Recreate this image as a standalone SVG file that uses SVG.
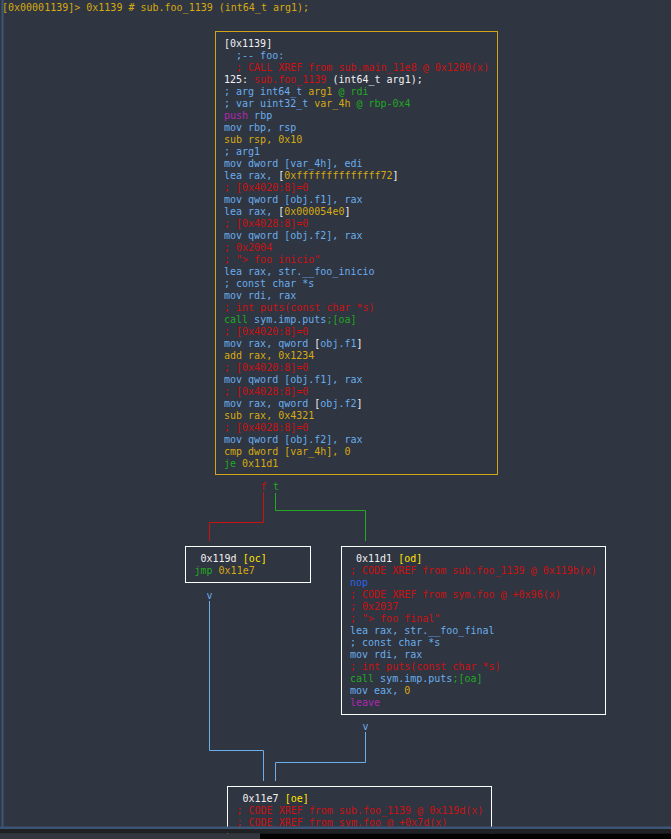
<svg xmlns="http://www.w3.org/2000/svg" width="671" height="839" viewBox="0 0 671 839">
<style>
text{font-family:"DejaVu Sans Mono","Liberation Mono",monospace;font-size:10px;white-space:pre}
.w{fill:#f2f2f2}.b{fill:#6aaeec}.r{fill:#cc1111}.y{fill:#d6aa12}.g{fill:#22a822}.p{fill:#b028b0}.n{fill:#2a64e6}.Y{fill:#ffe400}
.box{fill:none;stroke:#ffffff;stroke-width:1}
.main{fill:none;stroke:#d4a418;stroke-width:1}
.edge{fill:none;stroke-width:1}
</style>
<rect x="0" y="0" width="671" height="839" fill="#2f3541"/>
<rect x="1.5" y="0" width="2" height="829" fill="#3f5676"/>
<text x="2" y="11" class="y" xml:space="preserve">[0x00001139]&gt; 0x1139 # sub.foo_1139 (int64_t arg1);</text>

<g id="connectors">
<polyline class="edge" stroke="#cc1111" points="263.5,492 263.5,522.5 209.5,522.5 209.5,541"/>
<polyline class="edge" stroke="#22a822" points="275.5,493 275.5,510.5 365.5,510.5 365.5,541"/>
<polyline class="edge" stroke="#6aaeec" points="209.5,601 209.5,750.5 263.5,750.5 263.5,781"/>
<polyline class="edge" stroke="#6aaeec" points="365.5,732 365.5,762.5 275.5,762.5 275.5,781"/>
<text x="263.5" y="490" class="r" text-anchor="middle">f</text>
<text x="276" y="490" class="g" text-anchor="middle">t</text>
<text x="209.5" y="598.5" class="b" text-anchor="middle">v</text>
<text x="365.5" y="730" class="b" text-anchor="middle">v</text>
</g>

<g id="n0x1139">
<rect class="main" x="215.5" y="31.5" width="282" height="443"/>
<text x="224" y="46.5" xml:space="preserve"><tspan class="w">[0x1139]</tspan><tspan x="224" dy="12" class="b">  ;-- foo:</tspan><tspan x="224" dy="12" class="r">  ; CALL XREF from sub.main_11e8 @ 0x1200(x)</tspan><tspan x="224" dy="12" class="w">125: </tspan><tspan class="r">sub.foo_1139</tspan><tspan class="w"> (int64_t arg1);</tspan><tspan x="224" dy="12" class="b">; arg int64_t </tspan><tspan class="y">arg1</tspan><tspan class="g"> @ rdi</tspan><tspan x="224" dy="12" class="b">; var uint32_t </tspan><tspan class="y">var_4h</tspan><tspan class="g"> @ rbp-0x4</tspan><tspan x="224" dy="12" class="p">push</tspan><tspan class="b"> rbp</tspan><tspan x="224" dy="12" class="b">mov rbp, rsp</tspan><tspan x="224" dy="12" class="y">sub rsp, 0x10</tspan><tspan x="224" dy="12" class="b">; arg1</tspan><tspan x="224" dy="12" class="b">mov dword [var_4h], edi</tspan><tspan x="224" dy="12" class="b">lea rax, </tspan><tspan class="w">[</tspan><tspan class="y">0xffffffffffffff72</tspan><tspan class="w">]</tspan><tspan x="224" dy="12" class="r">; [0x4020:8]=0</tspan><tspan x="224" dy="12" class="b">mov qword [obj.f1], rax</tspan><tspan x="224" dy="12" class="b">lea rax, </tspan><tspan class="w">[</tspan><tspan class="y">0x000054e0</tspan><tspan class="w">]</tspan><tspan x="224" dy="12" class="r">; [0x4028:8]=0</tspan><tspan x="224" dy="12" class="b">mov qword [obj.f2], rax</tspan><tspan x="224" dy="12" class="r">; 0x2004</tspan><tspan x="224" dy="12" class="r">; "&gt; foo inicio"</tspan><tspan x="224" dy="12" class="b">lea rax, str.__foo_inicio</tspan><tspan x="224" dy="12" class="b">; const char *s</tspan><tspan x="224" dy="12" class="b">mov rdi, rax</tspan><tspan x="224" dy="12" class="r">; int puts(const char *s)</tspan><tspan x="224" dy="12" class="g">call</tspan><tspan class="b"> sym.imp.puts</tspan><tspan class="g">;[oa]</tspan><tspan x="224" dy="12" class="r">; [0x4020:8]=0</tspan><tspan x="224" dy="12" class="b">mov rax, qword </tspan><tspan class="w">[</tspan><tspan class="b">obj.f1</tspan><tspan class="w">]</tspan><tspan x="224" dy="12" class="y">add rax, 0x1234</tspan><tspan x="224" dy="12" class="r">; [0x4020:8]=0</tspan><tspan x="224" dy="12" class="b">mov qword [obj.f1], rax</tspan><tspan x="224" dy="12" class="r">; [0x4028:8]=0</tspan><tspan x="224" dy="12" class="b">mov rax, qword </tspan><tspan class="w">[</tspan><tspan class="b">obj.f2</tspan><tspan class="w">]</tspan><tspan x="224" dy="12" class="y">sub rax, 0x4321</tspan><tspan x="224" dy="12" class="r">; [0x4028:8]=0</tspan><tspan x="224" dy="12" class="b">mov qword [obj.f2], rax</tspan><tspan x="224" dy="12" class="y">cmp dword [var_4h], 0</tspan><tspan x="224" dy="12" class="g">je</tspan><tspan class="y"> 0x11d1</tspan></text>
</g>

<g id="n0x119d">
<rect class="box" x="185.5" y="546.5" width="125" height="36"/>
<text x="194.5" y="562.3" xml:space="preserve"><tspan class="w"> 0x119d </tspan><tspan class="Y">[oc]</tspan><tspan x="194.5" dy="12" class="g">jmp</tspan><tspan class="y"> 0x11e7</tspan></text>
</g>

<g id="n0x11d1">
<rect class="box" x="341.5" y="546.5" width="264" height="168"/>
<text x="350" y="562.3" xml:space="preserve"><tspan class="w"> 0x11d1 </tspan><tspan class="Y">[od]</tspan><tspan x="350" dy="12" class="r">; CODE XREF from sub.foo_1139 @ 0x119b(x)</tspan><tspan x="350" dy="12" class="n">nop</tspan><tspan x="350" dy="12" class="r">; CODE XREF from sym.foo @ +0x96(x)</tspan><tspan x="350" dy="12" class="r">; 0x2037</tspan><tspan x="350" dy="12" class="r">; "&gt; foo final"</tspan><tspan x="350" dy="12" class="b">lea rax, str.__foo_final</tspan><tspan x="350" dy="12" class="b">; const char *s</tspan><tspan x="350" dy="12" class="b">mov rdi, rax</tspan><tspan x="350" dy="12" class="r">; int puts(const char *s)</tspan><tspan x="350" dy="12" class="g">call</tspan><tspan class="b"> sym.imp.puts</tspan><tspan class="g">;[oa]</tspan><tspan x="350" dy="12" class="b">mov eax, </tspan><tspan class="y">0</tspan><tspan x="350" dy="12" class="p">leave</tspan></text>
</g>

<g id="n0x11e7">
<rect class="box" x="227.5" y="786.5" width="264" height="80"/>
<text x="236.5" y="801.7" xml:space="preserve"><tspan class="w"> 0x11e7 </tspan><tspan class="Y">[oe]</tspan><tspan x="236.5" dy="12" class="r">; CODE XREF from sub.foo_1139 @ 0x119d(x)</tspan><tspan x="236.5" dy="12" class="r">; CODE XREF from sym.foo @ +0x7d(x)</tspan></text>
</g>

<rect x="0" y="826.5" width="671" height="2.5" fill="#3d5575"/>
<rect x="0" y="829" width="671" height="4.5" fill="#1f2125"/>
<rect x="0" y="833.5" width="671" height="6" fill="#33363c"/>
<rect x="260" y="833.5" width="411" height="6" fill="#000000"/>
</svg>
